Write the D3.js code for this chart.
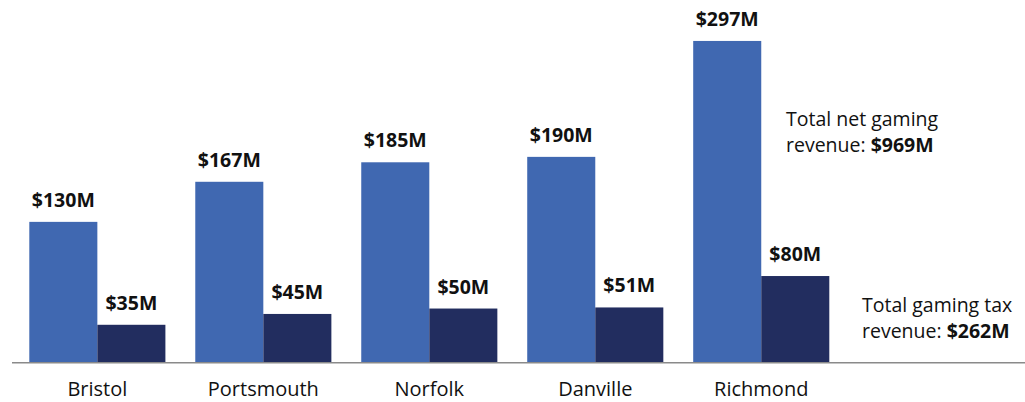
<!DOCTYPE html>
<html>
<head>
<meta charset="utf-8">
<script src="https://cdn.jsdelivr.net/npm/d3@7"></script>
<style>
  body { margin: 0; background: #fff; }
  svg { display: block; font-family: "Open Sans", sans-serif; }
</style>
</head>
<body>
<svg id="chart" width="1025" height="402"></svg>
<script>
// data ($ millions)
const cities = ["Bristol", "Portsmouth", "Norfolk", "Danville", "Richmond"];
const netRevenue = [130, 167, 185, 190, 297];
const taxRevenue = [35, 45, 50, 51, 80];
const totalNet = "$969M";
const totalTax = "$262M";

const svg = d3.select("#chart");

const blue = "#4068b1";
const navy = "#222d5f";

const x = d3.scaleBand()
  .domain(cities)
  .range([29.3, 829.3])
  .paddingInner(0.18)
  .paddingOuter(0);

const xSub = d3.scaleBand()
  .domain(["net", "tax"])
  .range([0, x.bandwidth()]);

const y = d3.scaleLinear()
  .domain([0, 300])
  .range([362.7, 37.7]);

const rows = cities.map((c, i) => ({
  city: c,
  vals: [
    { key: "net", v: netRevenue[i] },
    { key: "tax", v: taxRevenue[i] }
  ]
}));

const groups = svg.append("g").attr("id", "bars")
  .selectAll("g")
  .data(rows)
  .enter().append("g")
  .attr("transform", d => `translate(${x(d.city)},0)`);

groups.selectAll("rect")
  .data(d => d.vals)
  .enter().append("rect")
  .attr("x", d => xSub(d.key))
  .attr("width", xSub.bandwidth())
  .attr("y", d => y(d.v))
  .attr("height", d => y(0) - y(d.v))
  .attr("fill", d => d.key == "net" ? blue : navy);

groups.selectAll("text")
  .data(d => d.vals)
  .enter().append("text")
  .attr("x", d => xSub(d.key) + xSub.bandwidth() / 2)
  .attr("y", d => y(d.v) - 15)
  .attr("text-anchor", "middle")
  .attr("font-size", 19.5)
  .attr("font-weight", "bold")
  .attr("fill", "#111")
  .text(d => `$${d.v}M`);

// baseline
svg.append("line")
  .attr("x1", 12).attr("x2", 1025)
  .attr("y1", y(0)).attr("y2", y(0))
  .attr("stroke", "#8a8a8a")
  .attr("stroke-width", 1.5);

// category labels
const axis = svg.append("g")
  .attr("transform", `translate(0,${y(0)})`)
  .call(d3.axisBottom(x).tickSize(0).tickPadding(19));
axis.select(".domain").remove();
axis.selectAll("text")
  .attr("font-family", "Open Sans, sans-serif")
  .attr("font-size", 20)
  .attr("fill", "#111");

// side notes
function note(xPos, yPos, line1, label, value) {
  const t = svg.append("text")
    .attr("x", xPos).attr("y", yPos)
    .attr("font-size", 19.5)
    .attr("fill", "#111");
  t.append("tspan").attr("x", xPos).text(line1);
  const t2 = t.append("tspan").attr("x", xPos).attr("dy", 26);
  t2.append("tspan").text(label);
  t2.append("tspan").attr("font-weight", "bold").text(value);
}
note(786, 126, "Total net gaming", "revenue: ", totalNet);
note(862, 312, "Total gaming tax", "revenue: ", totalTax);
</script>
</body>
</html>
